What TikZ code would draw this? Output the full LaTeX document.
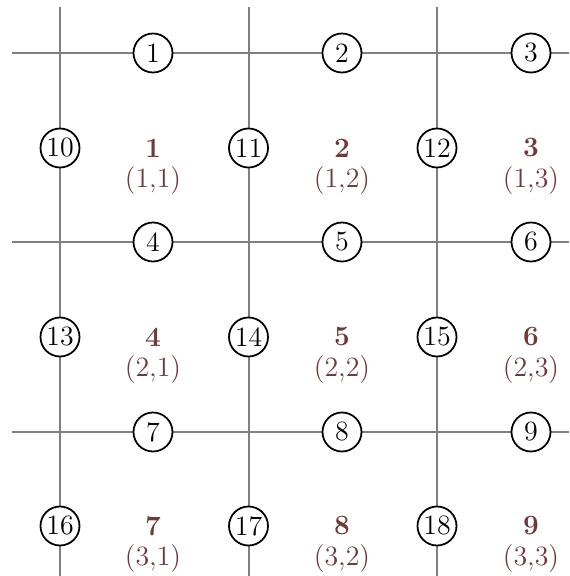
\documentclass[tikz,border=0pt]{standalone}
\usepackage{tikz}
\definecolor{cellred}{RGB}{112,58,58}
\definecolor{gridgray}{RGB}{128,128,128}
\tikzset{
  gridline/.style={draw=gridgray, line width=0.9pt},
  edgenum/.style={
    circle,
    draw=black,
    thick,
    fill=white,
    minimum size=17.6pt,
    inner sep=0pt,
    font=\fontsize{12.6}{15}\selectfont
  },
  cellnum/.style={text=cellred, font=\fontsize{12.6}{15}\selectfont\bfseries, inner sep=0pt},
  cellpos/.style={text=cellred, font=\fontsize{12.6}{15}\selectfont, inner sep=0pt}
}

\begin{document}
\begin{tikzpicture}[x=0.4512pt, y=-0.4512pt]
  \useasboundingbox (0,0) rectangle (569,576);
  % grid lines
  \foreach \r/\y in {1/53,2/242,3/432} {
    \coordinate (hw\r) at (12,\y);
    \coordinate (he\r) at (569,\y);
    \draw[gridline] (hw\r) -- (he\r);
  }
  \foreach \c/\x in {1/60,2/248.5,3/437} {
    \coordinate (vn\c) at (\x,7);
    \coordinate (vs\c) at (\x,576);
    \draw[gridline] (vn\c) -- (vs\c);
  }
  % numbered circles and cells
  \foreach \r/\y/\ym in {1/53/148,2/242/337,3/432/526} {
    \foreach \c/\x/\xm in {1/60/153,2/248.5/342,3/437/531} {
      \pgfmathtruncatemacro{\idx}{3*(\r-1)+\c}
      \pgfmathtruncatemacro{\vidx}{\idx+9}
      \node[edgenum] (h\idx) at (\xm,\y) {\idx};
      \node[edgenum] (v\vidx) at (\x,\ym) {\vidx};
      \node[cellnum] (cell\idx) at (\xm,\ym) {\idx};
      \node[cellpos] (pos\idx) at (\xm,\ym+33) {(\r,\c)};
    }
  }
\end{tikzpicture}
\end{document}
